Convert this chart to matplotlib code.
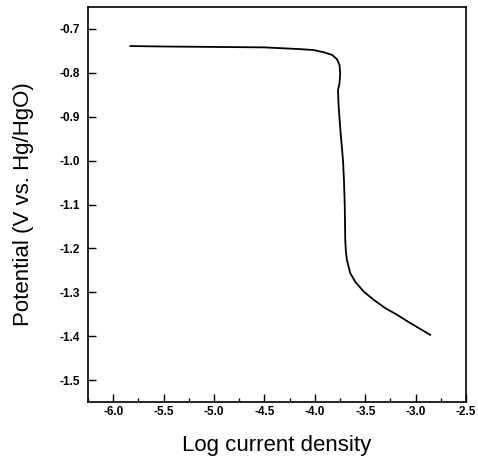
import numpy as np
import matplotlib.pyplot as plt
from matplotlib.ticker import MultipleLocator, FormatStrFormatter

plt.rcParams['font.family'] = ['Liberation Sans', 'DejaVu Sans']

# Polarization curve
log_current = [-5.83, -5.5, -5.0, -4.5, -4.145, -4.013, -3.914, -3.83,
               -3.78, -3.755, -3.748, -3.755, -3.77, -3.765, -3.75, -3.735,
               -3.72, -3.71, -3.703, -3.698, -3.692, -3.682, -3.649, -3.599,
               -3.517, -3.417, -3.302, -3.186, -3.054, -2.855]
potential = [-0.739, -0.740, -0.741, -0.742, -0.746, -0.748, -0.753, -0.759,
             -0.769, -0.782, -0.801, -0.824, -0.839, -0.870, -0.920, -0.960,
             -1.000, -1.050, -1.100, -1.181, -1.205, -1.226, -1.256, -1.276,
             -1.298, -1.317, -1.336, -1.351, -1.370, -1.397]

fig = plt.figure(figsize=(4.78, 4.62), dpi=100)
ax = fig.add_axes([88 / 478, 1 - 402 / 462, (466 - 88) / 478, (402 - 7) / 462])

ax.plot(log_current, potential, color='black', linewidth=1.3)

ax.set_xlim(-6.25, -2.5)
ax.set_ylim(-1.55, -0.65)
ax.xaxis.set_major_locator(MultipleLocator(0.5))
ax.xaxis.set_minor_locator(MultipleLocator(0.25))
ax.yaxis.set_major_locator(MultipleLocator(0.1))
ax.xaxis.set_major_formatter(FormatStrFormatter('%.1f'))
ax.yaxis.set_major_formatter(FormatStrFormatter('%.1f'))

ax.tick_params(which='major', direction='in', length=6, width=1, labelsize=8.5)
ax.tick_params(which='minor', direction='in', length=3, width=1)
ax.tick_params(axis='x', pad=3)
ax.tick_params(axis='y', pad=6)
for lbl in ax.get_xticklabels() + ax.get_yticklabels():
    lbl.set_fontweight('bold')
for s in ax.spines.values():
    s.set_linewidth(1.2)

ax.set_xlabel('Log current density', fontsize=16, labelpad=12)
ax.set_ylabel('Potential (V vs. Hg/HgO)', fontsize=16, labelpad=18)

fig.savefig('out.png', dpi=100)
